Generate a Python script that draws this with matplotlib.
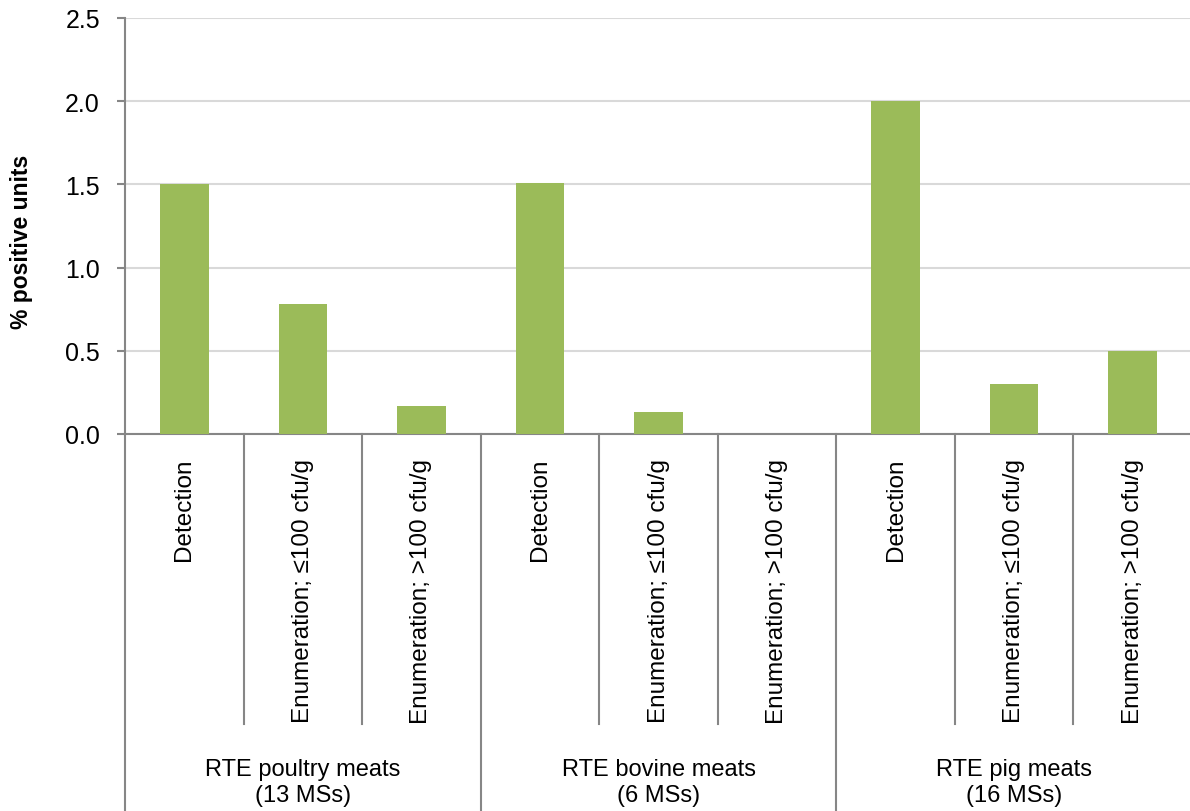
import matplotlib
matplotlib.use('Agg')
import matplotlib.pyplot as plt
import numpy as np

plt.rcParams['font.family'] = ['Liberation Sans', 'DejaVu Sans']

# data
groups = ['RTE poultry meats\n(13 MSs)', 'RTE bovine meats\n(6 MSs)', 'RTE pig meats\n(16 MSs)']
methods = ['Detection', 'Enumeration; \u2264100 cfu/g', 'Enumeration; >100 cfu/g']
poultry = [1.50, 0.78, 0.17]
bovine = [1.51, 0.13, 0.0]
pig = [2.00, 0.30, 0.50]

values = poultry + bovine + pig
labels = methods * 3
x = np.arange(len(values))

green = '#9BBB59'
axis_grey = '#868686'
grid_grey = '#D9D9D9'

fig = plt.figure(figsize=(11.9, 8.12), dpi=100)
ax = fig.add_axes([125 / 1190, (812 - 435) / 812, (1192 - 125) / 1190, (435 - 19) / 812])

ax.bar(x, values, width=0.41, color=green, zorder=3)

ax.set_xlim(-0.5, len(values) - 0.5)
ax.set_ylim(0, 2.5)
yt = np.arange(0, 2.51, 0.5)
ax.set_yticks(yt)
ax.set_yticklabels(['%.1f' % v for v in yt], fontsize=18)
ax.yaxis.grid(True, color=grid_grey, linewidth=1.5, zorder=0)
ax.tick_params(axis='y', direction='out', length=6, width=1.5, color=axis_grey, pad=12)

ax.set_xticks(x)
ax.set_xticklabels(labels, rotation=90, fontsize=17.5, va='top')
ax.tick_params(axis='x', length=0, pad=17)

for s in ['top', 'right']:
    ax.spines[s].set_visible(False)
for s in ['left', 'bottom']:
    ax.spines[s].set_color(axis_grey)
    ax.spines[s].set_linewidth(1.5)

ax.set_ylabel('% positive units', fontsize=16.5, fontweight='bold')
ax.yaxis.set_label_coords(-0.086, 0.464)

# category separators below the axis
tr = ax.get_xaxis_transform()
short_y = (435 - 725) / 416
long_y = (435 - 812) / 416
for b in np.arange(-0.5, len(values) - 1, 1.0):
    ylow = long_y if (b + 0.5) % 3 == 0 else short_y
    ax.plot([b, b], [0, ylow], transform=tr, color=axis_grey, lw=1.5, clip_on=False)

# group labels
for i, g in enumerate(groups):
    ax.text(i * 3 + 1, (435 - 783) / 416, g, transform=tr, ha='center', va='center',
            fontsize=17, linespacing=1.2)

fig.savefig('out.png', dpi=100)
